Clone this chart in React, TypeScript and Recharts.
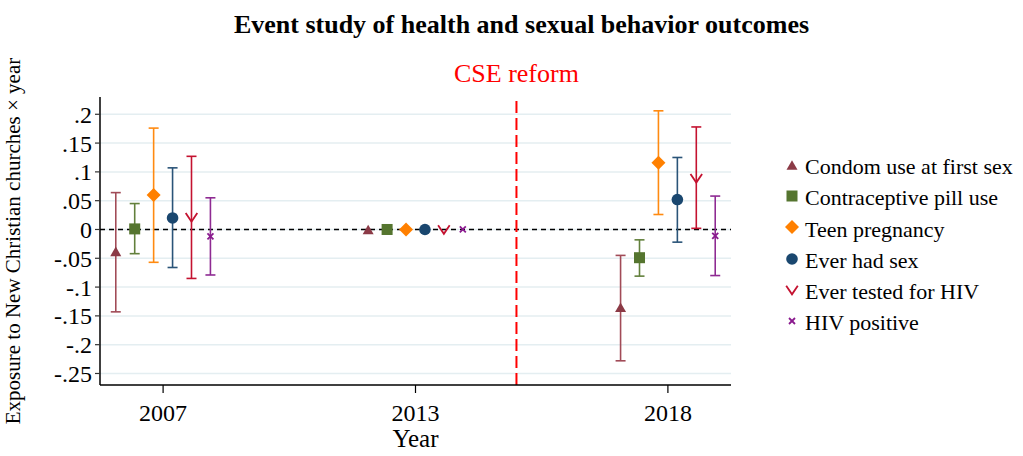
import React from "react";
import {
  ScatterChart,
  Scatter,
  XAxis,
  YAxis,
  CartesianGrid,
  ReferenceLine,
  ErrorBar,
} from "recharts";

const YEARS = ["2007", "2013", "2018"];
const Y_TICKS = [-0.25, -0.2, -0.15, -0.1, -0.05, 0, 0.05, 0.1, 0.15, 0.2];

// point estimates and 95% CI bounds, one entry per year (2013 is the base year)
const condomCoef = [-0.038, 0, -0.135];
const condomLo = [-0.143, null, -0.228];
const condomHi = [0.064, null, -0.045];

const pillCoef = [0.001, 0, -0.049];
const pillLo = [-0.042, null, -0.081];
const pillHi = [0.045, null, -0.018];

const teenCoef = [0.06, 0, 0.116];
const teenLo = [-0.057, null, 0.026];
const teenHi = [0.176, null, 0.206];

const sexCoef = [0.02, 0, 0.052];
const sexLo = [-0.066, null, -0.022];
const sexHi = [0.107, null, 0.125];

const testedCoef = [0.021, 0, 0.089];
const testedLo = [-0.085, null, 0.002];
const testedHi = [0.127, null, 0.178];

const hivCoef = [-0.012, 0, -0.011];
const hivLo = [-0.079, null, -0.08];
const hivHi = [0.055, null, 0.058];

const REFORM_AT = 1.4;
const FONT = '"Liberation Serif", "Times New Roman", serif';

type Kind = "triangle" | "square" | "diamond" | "circle" | "vee" | "cross";

const SERIES: {
  name: string;
  coef: number[];
  lo: (number | null)[];
  hi: (number | null)[];
  color: string;
  bar: string;
  kind: Kind;
}[] = [
  { name: "Condom use at first sex", coef: condomCoef, lo: condomLo, hi: condomHi, color: "#8b3a46", bar: "#a14b57", kind: "triangle" },
  { name: "Contraceptive pill use", coef: pillCoef, lo: pillLo, hi: pillHi, color: "#55752f", bar: "#62803c", kind: "square" },
  { name: "Teen pregnancy", coef: teenCoef, lo: teenLo, hi: teenHi, color: "#ff8000", bar: "#ff8a10", kind: "diamond" },
  { name: "Ever had sex", coef: sexCoef, lo: sexLo, hi: sexHi, color: "#1a476f", bar: "#2a5478", kind: "circle" },
  { name: "Ever tested for HIV", coef: testedCoef, lo: testedLo, hi: testedHi, color: "#c41230", bar: "#c41230", kind: "vee" },
  { name: "HIV positive", coef: hivCoef, lo: hivLo, hi: hivHi, color: "#8a1a8e", bar: "#8e2a92", kind: "cross" },
];

function Marker({ kind, cx, cy, color }: { kind: Kind; cx: number; cy: number; color: string }) {
  if (cx == null || cy == null) return null;
  switch (kind) {
    case "triangle":
      return <polygon points={`${cx - 5.5},${cy + 4.8} ${cx + 5.5},${cy + 4.8} ${cx},${cy - 4.8}`} fill={color} />;
    case "square":
      return <rect x={cx - 5.5} y={cy - 5.5} width={11} height={11} fill={color} />;
    case "diamond":
      return <polygon points={`${cx},${cy - 7} ${cx + 7},${cy} ${cx},${cy + 7} ${cx - 7},${cy}`} fill={color} />;
    case "circle":
      return <circle cx={cx} cy={cy} r={5.8} fill={color} />;
    case "vee":
      return (
        <polyline
          points={`${cx - 5.8},${cy - 4.3} ${cx},${cy + 4.3} ${cx + 5.8},${cy - 4.3}`}
          fill="none"
          stroke={color}
          strokeWidth={1.8}
        />
      );
    default:
      return (
        <g stroke={color} strokeWidth={1.8}>
          <line x1={cx - 3} y1={cy - 3} x2={cx + 3} y2={cy + 3} />
          <line x1={cx - 3} y1={cy + 3} x2={cx + 3} y2={cy - 3} />
        </g>
      );
  }
}

const fmtTick = (v: number) => {
  if (Math.abs(v) < 1e-9) return "0";
  const s = Math.abs(v).toFixed(2).replace(/0+$/, "").replace(/^0/, "");
  return (v < 0 ? "-" : "") + s;
};

function LegendBox() {
  return (
    <div style={{ position: "absolute", left: 785, top: 151, fontFamily: FONT, fontSize: 22, color: "#000" }}>
      {SERIES.map((s) => (
        <div key={s.name} style={{ display: "flex", alignItems: "center", height: 31.3, lineHeight: "31.3px", whiteSpace: "nowrap" }}>
          <svg width={14} height={14} style={{ marginRight: 6, marginTop: -4 }}>
            <Marker kind={s.kind} cx={7} cy={7} color={s.color} />
          </svg>
          <span>{s.name}</span>
        </div>
      ))}
    </div>
  );
}

export default function App() {
  const n = SERIES.length;
  return (
    <div style={{ position: "absolute", left: 0, top: 0, width: 1023, height: 456, background: "#fff", fontFamily: FONT }}>
      <div
        style={{
          position: "absolute",
          top: 10,
          left: 0,
          width: 1043,
          textAlign: "center",
          fontSize: 26,
          lineHeight: "30px",
          fontWeight: "bold",
          color: "#000",
        }}
      >
        Event study of health and sexual behavior outcomes
      </div>
      <LegendBox />
      <ScatterChart width={1023} height={456} margin={{ top: 97, right: 292, bottom: 0, left: 0 }}>
        <CartesianGrid vertical={false} horizontalValues={Y_TICKS} stroke="#e4eef1" strokeWidth={1.5} />
        <XAxis
          type="number"
          dataKey="x"
          domain={[-0.25, 2.25]}
          ticks={[0, 1, 2]}
          tickFormatter={(v) => YEARS[v]}
          allowDataOverflow
          height={71}
          tickSize={8}
          tickMargin={11}
          axisLine={{ stroke: "#000", strokeWidth: 1.5 }}
          tickLine={{ stroke: "#000", strokeWidth: 1.2 }}
          tick={{ fill: "#000", fontSize: 24, fontFamily: FONT }}
          label={{ value: "Year", position: "insideBottom", offset: 9, fill: "#000", fontSize: 25, fontFamily: FONT }}
        />
        <YAxis
          type="number"
          dataKey="y"
          domain={[-0.27, 0.23]}
          ticks={Y_TICKS}
          interval={0}
          tickFormatter={fmtTick}
          allowDataOverflow
          width={100}
          tickSize={5}
          tickMargin={3}
          axisLine={{ stroke: "#000", strokeWidth: 1.5 }}
          tickLine={{ stroke: "#333", strokeWidth: 1.2 }}
          tick={{ fill: "#000", fontSize: 24, fontFamily: FONT }}
          label={{
            value: "Exposure to New Christian churches \u00d7 year",
            angle: -90,
            position: "center",
            dx: -37,
            fill: "#000",
            fontSize: 21,
            fontFamily: FONT,
          }}
        />
        <ReferenceLine y={0} stroke="#000" strokeWidth={1.6} strokeDasharray="5 4" />
        <ReferenceLine
          x={REFORM_AT}
          stroke="#ff0000"
          strokeWidth={2}
          strokeDasharray="12 5"
          label={{ value: "CSE reform", position: "top", offset: 15, fill: "#ff0000", fontSize: 26, fontFamily: FONT }}
        />
        {SERIES.map((s, si) => {
          const dodge = (si - (n - 1) / 2) * 0.075;
          const withCi = s.coef
            .map((c, i) => ({ i, c }))
            .filter(({ i }) => s.lo[i] != null)
            .map(({ i, c }) => ({ x: i + dodge, y: c, err: [c - (s.lo[i] as number), (s.hi[i] as number) - c] }));
          const base = s.coef
            .map((c, i) => ({ i, c }))
            .filter(({ i }) => s.lo[i] == null)
            .map(({ i, c }) => ({ x: i + dodge, y: c }));
          const shape = (p: any) => <Marker kind={s.kind} cx={p.cx} cy={p.cy} color={s.color} />;
          return [
            <Scatter key={s.name + "-ci"} name={s.name} data={withCi} isAnimationActive={false} shape={shape}>
              <ErrorBar dataKey="err" direction="y" width={5} stroke={s.bar} strokeWidth={1.6} />
            </Scatter>,
            <Scatter key={s.name + "-base"} name={s.name + " base"} data={base} isAnimationActive={false} shape={shape} />,
          ];
        })}
      </ScatterChart>
    </div>
  );
}
